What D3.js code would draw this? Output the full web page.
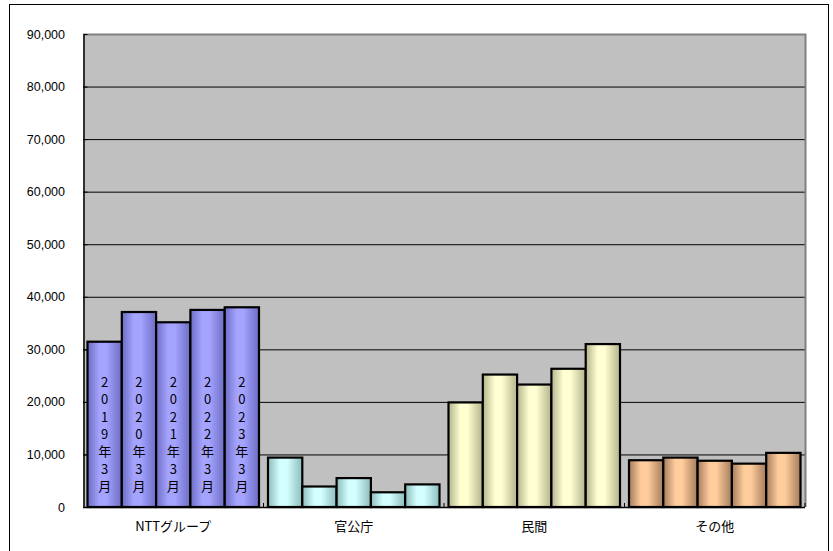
<!DOCTYPE html>
<html>
<head>
<meta charset="utf-8">
<script src="https://cdn.jsdelivr.net/npm/d3@7"></script>
<style>
  body { margin: 0; background: #fff; }
  svg { display: block; }
  text { font-family: "Liberation Sans", Arial, "Noto Sans CJK JP", sans-serif; }
  .jp { font-family: "Noto Sans CJK JP", sans-serif; }
</style>
</head>
<body>
<svg id="chart" width="833" height="551"></svg>
<script>
// data
var categories = ['NTTグループ', '官公庁', '民間', 'その他']
var periods = ['2019年3月', '2020年3月', '2021年3月', '2022年3月', '2023年3月']
var nttValues = [31450, 37100, 35150, 37500, 38000]
var govValues = [9400, 3900, 5500, 2800, 4300]
var privateValues = [19900, 25200, 23300, 26300, 31000]
var otherValues = [8900, 9400, 8800, 8250, 10300]
var yTicks = [0, 10000, 20000, 30000, 40000, 50000, 60000, 70000, 80000, 90000]

var seriesByCategory = [nttValues, govValues, privateValues, otherValues]
// light colour / edge colour per category
var fills = [
  { id: 'gNtt', light: '#a4a4ff', dark: '#6c6cc4' },
  { id: 'gGov', light: '#d4ffff', dark: '#8cbcbc' },
  { id: 'gPriv', light: '#ffffd2', dark: '#b4b48c' },
  { id: 'gOther', light: '#ffcc9c', dark: '#a47c5c' }
]

var svg = d3.select('#chart')
var margin = { left: 83, right: 28, top: 34, bottom: 44 }
var W = 833, H = 551

// outer frame
svg.append('rect')
  .attr('x', 9.5).attr('y', 4.5)
  .attr('width', 819).attr('height', 560)
  .attr('fill', '#fff').attr('stroke', '#000').attr('stroke-width', 1)

var defs = svg.append('defs')
fills.forEach(function(f){
  var g = defs.append('linearGradient').attr('id', f.id)
    .attr('x1', '0%').attr('x2', '100%').attr('y1', '0%').attr('y2', '0%')
  g.append('stop').attr('offset', '0%').attr('stop-color', f.dark)
  g.append('stop').attr('offset', '35%').attr('stop-color', f.light)
  g.append('stop').attr('offset', '55%').attr('stop-color', f.light)
  g.append('stop').attr('offset', '100%').attr('stop-color', f.dark)
})

var x0 = d3.scaleBand().domain(categories).range([margin.left, W - margin.right])
var x1 = d3.scaleBand().domain(periods).range([4.5, x0.bandwidth() - 4.5])
var y = d3.scaleLinear().domain([0, 90000]).range([H - margin.bottom, margin.top])

// plot area
svg.append('rect')
  .attr('x', x0.range()[0]).attr('y', y(90000))
  .attr('width', x0.range()[1] - x0.range()[0]).attr('height', y(0) - y(90000))
  .attr('fill', '#c0c0c0')

// grid lines
svg.append('g').selectAll('line').data(yTicks.slice(1)).join('line')
  .attr('x1', x0.range()[0]).attr('x2', x0.range()[1])
  .attr('y1', function(d){ return y(d) + 0.5 }).attr('y2', function(d){ return y(d) + 0.5 })
  .attr('stroke', '#000').attr('stroke-width', 1)

// grey top/right frame of the plot area
svg.append('path')
  .attr('d', 'M' + x0.range()[0] + ',' + (y(90000) + 0.5) + 'H' + (x0.range()[1] + 0.5) + 'V' + y(0))
  .attr('fill', 'none').attr('stroke', '#808080').attr('stroke-width', 2)

// y axis
var yAxis = svg.append('g').attr('transform', 'translate(' + (x0.range()[0] + 0.5) + ',0)')
  .call(d3.axisLeft(y).tickValues(yTicks).tickFormat(d3.format(',')).tickSizeInner(-4).tickSizeOuter(0).tickPadding(18.5))
yAxis.select('.domain').attr('stroke', '#000').attr('stroke-width', 1.5)
yAxis.selectAll('.tick line').attr('stroke', '#000')
yAxis.selectAll('.tick text').attr('font-size', 12.5).attr('fill', '#000')
  .style('font-family', '"Liberation Sans", Arial, sans-serif')

// bars
var groups = svg.append('g').selectAll('g').data(categories).join('g')
  .attr('transform', function(d){ return 'translate(' + x0(d) + ',0)' })

groups.each(function(cat, ci){
  d3.select(this).selectAll('rect').data(seriesByCategory[ci]).join('rect')
    .attr('x', function(d, i){ return x1(periods[i]) })
    .attr('y', function(d){ return y(d) })
    .attr('width', x1.bandwidth())
    .attr('height', function(d){ return y(0) - y(d) })
    .attr('fill', 'url(#' + fills[ci].id + ')')
    .attr('stroke', '#000').attr('stroke-width', 2.2)
})

// period labels written top-to-bottom inside the NTT bars
var lineStep = 17.3
groups.filter(function(d, i){ return i === 0 }).each(function(){
  var g = d3.select(this)
  periods.forEach(function(p, i){
    var chars = p.split('')
    g.append('text').attr('class', 'jp')
      .attr('text-anchor', 'middle')
      .attr('font-size', 13).attr('fill', '#000')
      .selectAll('tspan').data(chars).join('tspan')
      .attr('x', x1(p) + x1.bandwidth() / 2)
      .attr('y', function(d, k){ return 387 + k * lineStep })
      .text(function(d){ return d })
  })
})

// x axis line and boundary ticks
svg.append('line')
  .attr('x1', x0.range()[0]).attr('x2', x0.range()[1])
  .attr('y1', y(0) + 0.5).attr('y2', y(0) + 0.5)
  .attr('stroke', '#000').attr('stroke-width', 1.5)
var bounds = categories.map(function(c){ return x0(c) }).concat([x0.range()[1]])
svg.append('g').selectAll('line').data(bounds.slice(1)).join('line')
  .attr('x1', function(d){ return d }).attr('x2', function(d){ return d })
  .attr('y1', y(0) - 4).attr('y2', y(0))
  .attr('stroke', '#000').attr('stroke-width', 1)

// category labels
svg.append('g').selectAll('text').data(categories).join('text')
  .attr('class', 'jp')
  .attr('x', function(d){ return x0(d) + x0.bandwidth() / 2 })
  .attr('y', 531)
  .attr('text-anchor', 'middle')
  .attr('font-size', 13).attr('fill', '#000')
  .text(function(d){ return d })
</script>
</body>
</html>
